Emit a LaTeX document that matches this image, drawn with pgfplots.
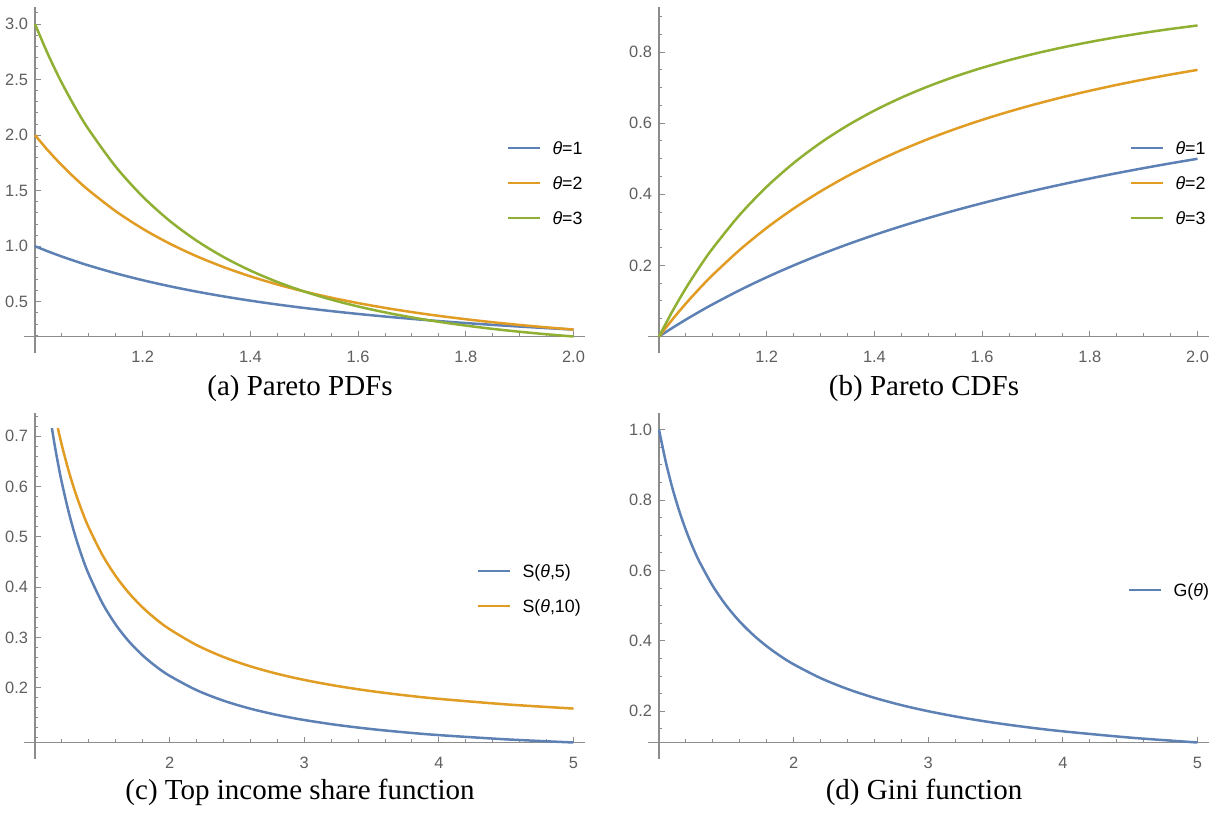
\documentclass[border=0pt]{standalone}
\usepackage{fontspec}
\setmainfont{Liberation Sans}
\newfontfamily\capfont{Liberation Serif}
\usepackage{pgfplots}
\pgfplotsset{compat=1.18}
\definecolor{mblue}{HTML}{5E81B5}
\definecolor{morange}{HTML}{E19C24}
\definecolor{mgreen}{HTML}{8FB032}
\definecolor{axisgray}{HTML}{8C8C8C}
\definecolor{labelgray}{HTML}{5F5F5F}
\pgfplotsset{
  mstyle/.style={
    scale only axis, anchor=south west, clip=false,
    axis lines*=left,
    axis line style={draw=axisgray, line width=0.6pt},
    x axis line style={shorten <=-5.5pt},
    y axis line style={shorten <=-8.25pt},
    tick align=inside,
    major tick length=2.8pt, minor tick length=1.6pt,
    every tick/.style={draw=axisgray, line width=0.5pt},
    tick label style={font=\fontsize{8.2}{9}\selectfont, text=labelgray},
    xticklabel style={yshift=-3.8pt},
    /pgf/number format/assume math mode=true,
    every axis plot/.append style={line width=1.25pt, no marks, smooth, line join=round},
    legend cell align=left,
    legend image code/.code={\draw[##1, line width=1.25pt] (0pt,0pt) -- (16pt,0pt);},
  },
  legst/.style={legend style={at={#1}, anchor=west, draw=none, fill=none,
      inner sep=0pt, outer sep=0pt, row sep=11.2pt, column sep=5.5pt,
      font=\fontsize{8.9}{10}\selectfont,
      nodes={inner sep=0pt, text height=6.3pt, text depth=0pt}}},
  onedec/.style={#1ticklabel style={/pgf/number format/.cd, fixed, fixed zerofill, precision=1}},
}
\begin{document}
\begin{tikzpicture}
\path[use as bounding box] (0,0) rectangle (607.5pt,-407pt);
% (a)
\begin{axis}[mstyle, at={(17.5pt,-168.25pt)}, width=274.75pt, height=164.75pt,
  xmin=1, xmax=2.0204, ymin=0.1875, ymax=3.1533,
  xtick={1.2,1.4,1.6,1.8,2.0}, minor xtick={1.05,1.1,...,2.0},
  ytick={0.5,1.0,1.5,2.0,2.5,3.0}, minor ytick={0.2,0.3,...,3.1},
  onedec=x, onedec=y, legst={(axis cs:1.8765,1.5691)}]
\addplot[mblue] coordinates {(1,1) (1.025,0.95181) (1.05,0.90703) (1.075,0.86533) (1.1,0.82645) (1.15,0.75614) (1.2,0.69444) (1.25,0.64) (1.3,0.59172) (1.35,0.54870) (1.4,0.51020) (1.45,0.47562) (1.5,0.44444) (1.55,0.41623) (1.6,0.39063) (1.65,0.36731) (1.7,0.34602) (1.75,0.32653) (1.8,0.30864) (1.85,0.29218) (1.9,0.27701) (1.95,0.26298) (2,0.25)};
\addlegendentry{\textit{θ}=1}
\addplot[morange] coordinates {(1,2) (1.025,1.85720) (1.05,1.72768) (1.075,1.60992) (1.1,1.50263) (1.15,1.31503) (1.2,1.15741) (1.25,1.024) (1.3,0.91033) (1.35,0.81288) (1.4,0.72886) (1.45,0.65603) (1.5,0.59259) (1.55,0.53708) (1.6,0.48828) (1.65,0.44522) (1.7,0.40708) (1.75,0.37318) (1.8,0.34294) (1.85,0.31587) (1.9,0.29159) (1.95,0.26973) (2,0.25)};
\addlegendentry{\textit{θ}=2}
\addplot[mgreen] coordinates {(1,3) (1.025,2.71785) (1.05,2.46810) (1.075,2.24640) (1.1,2.04904) (1.15,1.71524) (1.2,1.44676) (1.25,1.2288) (1.3,1.05040) (1.35,0.90322) (1.4,0.78092) (1.45,0.67864) (1.5,0.59259) (1.55,0.51974) (1.6,0.45776) (1.65,0.40475) (1.7,0.35919) (1.75,0.31987) (1.8,0.28578) (1.85,0.25611) (1.9,0.23020) (1.95,0.20748) (2,0.1875)};
\addlegendentry{\textit{θ}=3}
\end{axis}
% (b)
\begin{axis}[mstyle, at={(329.5pt,-168.25pt)}, width=274.75pt, height=164.75pt,
  xmin=1, xmax=2.0204, ymin=0, ymax=0.9269,
  xtick={1.2,1.4,1.6,1.8,2.0}, minor xtick={1.05,1.1,...,2.0},
  ytick={0.2,0.4,0.6,0.8}, minor ytick={0.05,0.1,...,0.9},
  onedec=x, onedec=y, legst={(axis cs:1.8747,0.4318)}]
\addplot[mblue] coordinates {(1,0) (1.025,0.02439) (1.05,0.04762) (1.075,0.06977) (1.1,0.09091) (1.15,0.13043) (1.2,0.16667) (1.25,0.2) (1.3,0.23077) (1.35,0.25926) (1.4,0.28571) (1.45,0.31034) (1.5,0.33333) (1.55,0.35484) (1.6,0.375) (1.65,0.39394) (1.7,0.41176) (1.75,0.42857) (1.8,0.44444) (1.85,0.45946) (1.9,0.47368) (1.95,0.48718) (2,0.5)};
\addlegendentry{\textit{θ}=1}
\addplot[morange] coordinates {(1,0) (1.025,0.04819) (1.05,0.09297) (1.075,0.13467) (1.1,0.17355) (1.15,0.24386) (1.2,0.30556) (1.25,0.36) (1.3,0.40828) (1.35,0.45130) (1.4,0.48980) (1.45,0.52438) (1.5,0.55556) (1.55,0.58377) (1.6,0.60938) (1.65,0.63269) (1.7,0.65398) (1.75,0.67347) (1.8,0.69136) (1.85,0.70782) (1.9,0.72299) (1.95,0.73702) (2,0.75)};
\addlegendentry{\textit{θ}=2}
\addplot[mgreen] coordinates {(1,0) (1.025,0.07140) (1.05,0.13616) (1.075,0.19504) (1.1,0.24869) (1.15,0.34248) (1.2,0.42130) (1.25,0.488) (1.3,0.54483) (1.35,0.59356) (1.4,0.63557) (1.45,0.67198) (1.5,0.70370) (1.55,0.73146) (1.6,0.75586) (1.65,0.77739) (1.7,0.79646) (1.75,0.81341) (1.8,0.82853) (1.85,0.84206) (1.9,0.85420) (1.95,0.86513) (2,0.875)};
\addlegendentry{\textit{θ}=3}
\end{axis}
% (c)
\begin{axis}[mstyle, at={(17.5pt,-371.25pt)}, width=274.75pt, height=164.75pt,
  xmin=1, xmax=5.0817, ymin=0.0910, ymax=0.7461,
  xtick={2,3,4,5}, minor xtick={1.2,1.4,...,5.0},
  ytick={0.2,0.3,0.4,0.5,0.6,0.7}, minor ytick={0.1,0.12,...,0.74},
  onedec=y, legst={(axis cs:4.2838,0.3972)}]
\addplot[mblue] coordinates {(1.1255,0.716) (1.15,0.67655) (1.175,0.64007) (1.2,0.60696) (1.25,0.54928) (1.3,0.50091) (1.35,0.45993) (1.4,0.42489) (1.5,0.36840) (1.6,0.32517) (1.7,0.29126) (1.8,0.26410) (1.9,0.24195) (2,0.22361) (2.2,0.19514) (2.4,0.17421) (2.6,0.15826) (2.8,0.14575) (3,0.13572) (3.25,0.12569) (3.5,0.11768) (3.75,0.11115) (4,0.10574) (4.5,0.09729) (5,0.09103)};
\addlegendentry{S(\textit{θ},5)}
\addplot[morange] coordinates {(1.1697,0.716) (1.2,0.68129) (1.25,0.63096) (1.3,0.58780) (1.35,0.55048) (1.4,0.51795) (1.5,0.46416) (1.6,0.42170) (1.7,0.38747) (1.8,0.35938) (1.9,0.33598) (2,0.31623) (2.2,0.28480) (2.4,0.26102) (2.6,0.24245) (2.8,0.22759) (3,0.21544) (3.25,0.20309) (3.5,0.19307) (3.75,0.18479) (4,0.17783) (4.5,0.16681) (5,0.15849)};
\addlegendentry{S(\textit{θ},10)}
\end{axis}
% (d)
\begin{axis}[mstyle, at={(329.5pt,-371.25pt)}, width=274.75pt, height=164.75pt,
  xmin=1, xmax=5.0817, ymin=0.1111, ymax=1.0472,
  xtick={2,3,4,5}, minor xtick={1.2,1.4,...,5.0},
  ytick={0.2,0.4,0.6,0.8,1.0}, minor ytick={0.15,0.2,...,1.05},
  onedec=y, legst={(axis cs:4.4844,0.5443)}]
\addplot[mblue] coordinates {(1,1) (1.05,0.90909) (1.1,0.83333) (1.15,0.76923) (1.2,0.71429) (1.25,0.66667) (1.3,0.625) (1.4,0.55556) (1.5,0.5) (1.6,0.45455) (1.7,0.41667) (1.8,0.38462) (1.9,0.35714) (2,0.33333) (2.2,0.29412) (2.4,0.26316) (2.6,0.23810) (2.8,0.21739) (3,0.2) (3.25,0.18182) (3.5,0.16667) (3.75,0.15385) (4,0.14286) (4.5,0.125) (5,0.11111)};
\addlegendentry{G(\textit{θ})}
\end{axis}
\node[anchor=base, font=\capfont\fontsize{14.5}{16}\selectfont] at (150pt,-197.5pt) {(a) Pareto PDFs};
\node[anchor=base, font=\capfont\fontsize{14.5}{16}\selectfont] at (462pt,-197.5pt) {(b) Pareto CDFs};
\node[anchor=base, font=\capfont\fontsize{14.5}{16}\selectfont] at (150pt,-399.75pt) {(c) Top income share function};
\node[anchor=base, font=\capfont\fontsize{14.5}{16}\selectfont] at (462pt,-399.75pt) {(d) Gini function};
\end{tikzpicture}
\end{document}
